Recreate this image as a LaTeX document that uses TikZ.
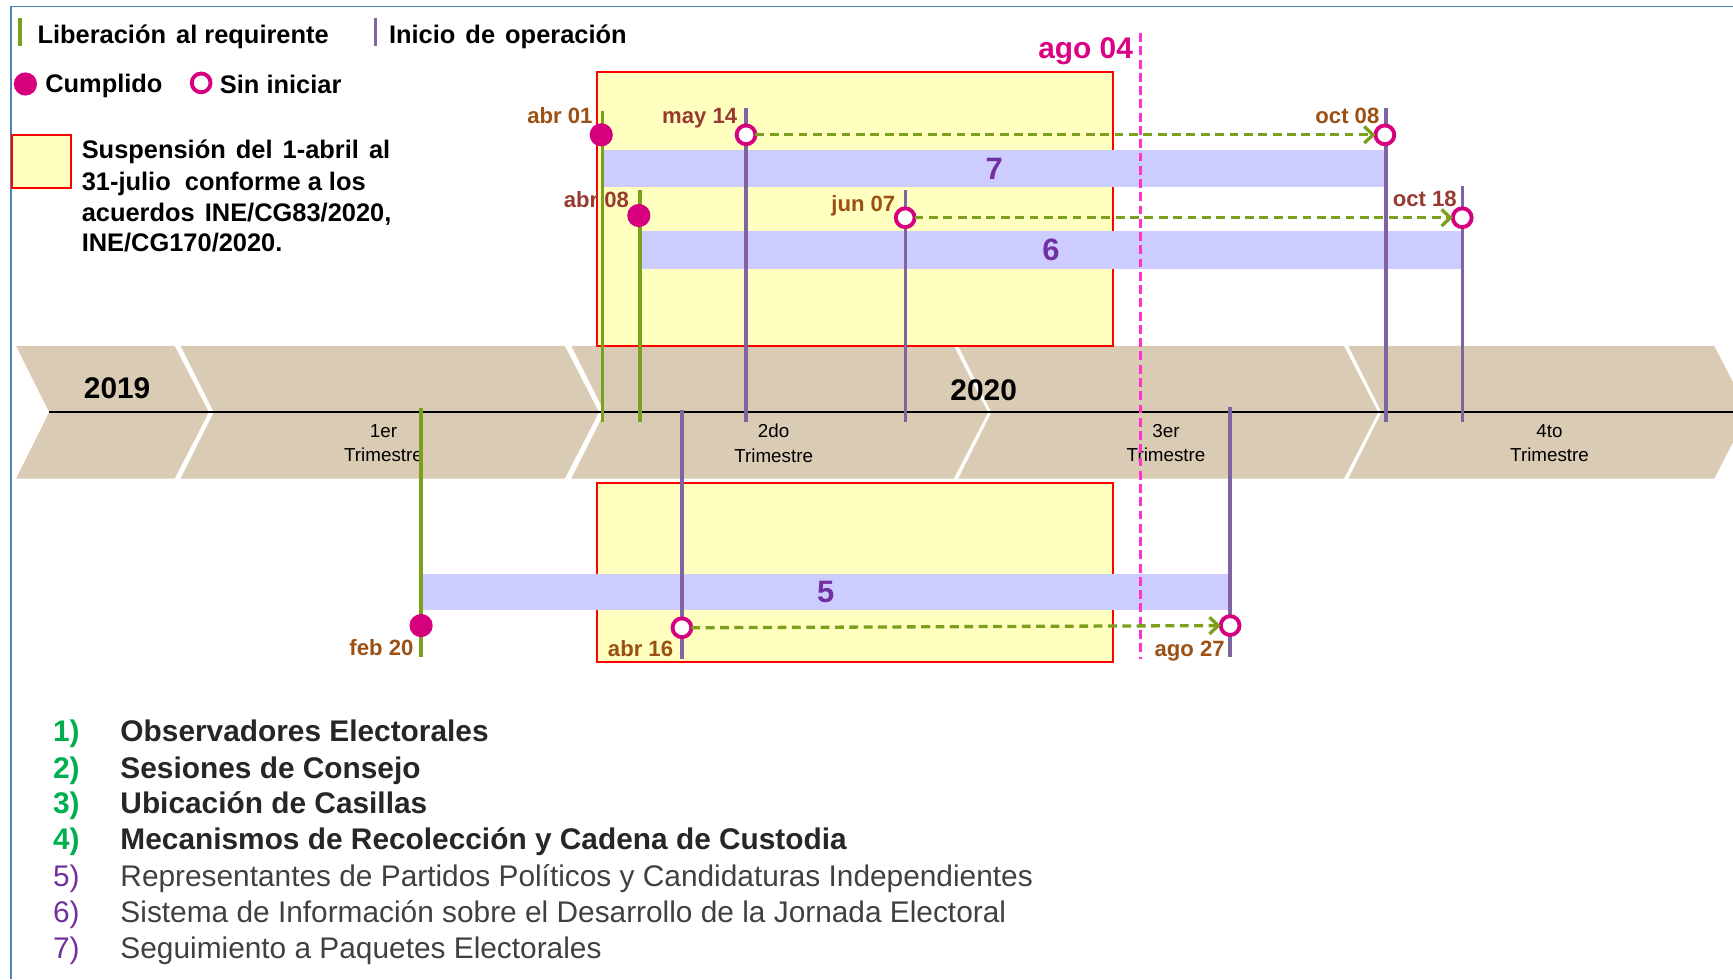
\documentclass[tikz,border=0pt]{standalone}
\usepackage{fontspec}
\setmainfont{Liberation Sans}
\usetikzlibrary{arrows.meta,shapes.geometric}
\definecolor{lgreen}{RGB}{122,160,30}
\definecolor{lpurple}{RGB}{128,100,162}
\definecolor{magdot}{RGB}{214,0,127}
\definecolor{pinkdash}{RGB}{255,51,204}
\definecolor{susp}{RGB}{255,255,192}
\definecolor{lav}{RGB}{204,204,255}
\definecolor{numpurple}{RGB}{112,48,160}
\definecolor{tanc}{RGB}{217,203,180}
\definecolor{brownA}{RGB}{155,80,20}
\definecolor{brownB}{RGB}{150,58,50}
\definecolor{listgreen}{RGB}{0,176,80}
\definecolor{framebl}{RGB}{79,129,189}
\definecolor{dtext}{RGB}{38,38,38}
\definecolor{rtext}{RGB}{64,64,64}
\definecolor{agocol}{RGB}{220,0,130}
\newcommand{\wsp}{\ \hspace{2.7pt}}
\begin{document}
\begin{tikzpicture}[x=1pt,y=-1pt,
  every node/.style={inner sep=0pt, outer sep=0pt},
  vg/.style={draw=lgreen, line width=3pt},
  vp/.style={draw=lpurple, line width=3pt},
  fdot/.style={circle, fill=magdot, minimum size=21pt},
  odot/.style={circle, draw=magdot, line width=3.5pt, fill=white, minimum size=17pt},
  darr/.style={draw=lgreen, line width=3pt, dash pattern=on 8pt off 5pt, -{Straight Barb[length=8pt,width=15pt]}},
  lblA/.style={font=\fontsize{20}{24}\selectfont\bfseries, text=brownA},
  lblB/.style={font=\fontsize{20}{24}\selectfont\bfseries, text=brownB},
  legtxt/.style={font=\fontsize{23}{27}\selectfont\bfseries, text=black},
  suspbox/.style={rectangle, fill=susp, draw=red, line width=2pt},
  barbox/.style={rectangle, fill=lav, text=numpurple, font=\fontsize{28}{30}\selectfont\bfseries},
  qlbl/.style={font=\fontsize{17}{22}\selectfont, align=center, text=black},
  yearlbl/.style={font=\fontsize{27}{30}\selectfont\bfseries, text=black},
  numg/.style={font=\fontsize{27}{30}\selectfont\bfseries, text=listgreen},
  nump/.style={font=\fontsize{27}{30}\selectfont, text=numpurple},
  itemb/.style={font=\fontsize{27}{30}\selectfont\bfseries, text=dtext},
  itemr/.style={font=\fontsize{27}{30}\selectfont, text=rtext},
]
\useasboundingbox (0,0) rectangle (1568,886);
% frame
\draw[framebl, line width=1.5pt] (10,886) -- (10,6) -- (1568,6);

% timeline band
\begin{scope}
\clip (0,0) rectangle (1568,886);
\foreach \a/\b in {14.5/158, 163.5/511, 517/863, 867/1216, 1220/1551}
  \fill[tanc] (\a,313) -- (\b,313) -- (\b+31,373) -- (\b,433) -- (\a,433) -- (\a+30,373) -- cycle;
\draw[line width=2pt, black] (44,373) -- (1568,373);
\end{scope}
\node[yearlbl, anchor=base] (y2019) at (106,361) {2019};
\node[yearlbl, anchor=base] (y2020) at (890,362) {2020};
\node[qlbl] (q1) at (347,401) {1er\\Trimestre};
\node[qlbl] (q2) at (700,401) {2do\\Trimestre};
\node[qlbl] (q3) at (1055,401) {3er\\Trimestre};
\node[qlbl] (q4) at (1402,401) {4to\\Trimestre};

% legend
\coordinate (lgt) at (18,16); \coordinate (lgb) at (18,42);
\draw[vg] (lgt) -- (lgb);
\node[legtxt, anchor=base west] (lg1) at (34,39) {Liberación\wsp al requirente};
\coordinate (lpt) at (340,16); \coordinate (lpb) at (340,42);
\draw[vp] (lpt) -- (lpb);
\node[legtxt, anchor=base west] (lg2) at (352,39) {Inicio\wsp de\wsp operación};
\node[fdot] (lgdot) at (23,76) {};
\node[legtxt, anchor=base west] (lg3) at (41,84) {Cumplido};
\node[odot] (lgodot) at (182,75) {};
\node[legtxt, anchor=base west] (lg4) at (199,85) {Sin iniciar};
\node[suspbox, minimum width=53pt, minimum height=48pt] (lgbox) at (37.5,146) {};
\node[legtxt, anchor=base west] (s1) at (74,143) {Suspensión\wsp del\wsp 1-abril\wsp al};
\node[legtxt, anchor=base west] (s2) at (74,172) {31-julio\ \ conforme a los};
\node[legtxt, anchor=base west] (s3) at (74,200) {acuerdos\wsp INE/CG83/2020,};
\node[legtxt, anchor=base west] (s4) at (74,228) {INE/CG170/2020.};

% suspension boxes
\node[suspbox, minimum width=467pt, minimum height=248pt] (box1) at (773.5,189) {};
\node[suspbox, minimum width=467pt, minimum height=162pt] (box2) at (773.5,518) {};

% bars
\node[barbox, minimum width=709pt, minimum height=33pt] (bar7) at (899.5,152.5) {7};
\node[barbox, minimum width=744pt, minimum height=34pt] (bar6) at (951,226) {6};
\node[barbox, minimum width=732pt, minimum height=33pt] (bar5) at (747,535.5) {5};

% ago 04
\node[font=\fontsize{27}{30}\selectfont\bfseries, text=agocol, anchor=base east] (ago04) at (1025,53) {ago 04};
\coordinate (agot) at (1032,30); \coordinate (agob) at (1032,596);
\draw[pinkdash, line width=2.5pt, dash pattern=on 8pt off 4pt] (agot) -- (agob);

% date labels
\node[lblA, anchor=base east] (labr01) at (536,112) {abr 01};
\node[lblB, anchor=base east] (labr08) at (569,188) {abr 08};
\node[lblB, anchor=base east] (lmay14) at (667,112) {may 14};
\node[lblA, anchor=base east] (ljun07) at (810,191) {jun 07};
\node[lblA, anchor=base east] (loct08) at (1248,112) {oct 08};
\node[lblB, anchor=base east] (loct18) at (1318,187) {oct 18};
\node[lblA, anchor=base east] (lfeb20) at (374,593) {feb 20};
\node[lblA, anchor=base east] (labr16) at (609,594) {abr 16};
\node[lblA, anchor=base east] (lago27) at (1108,594) {ago 27};

% vertical lines
\coordinate (t01) at (545,100); \coordinate (b01) at (545,382);
\coordinate (t08) at (579,172); \coordinate (b08) at (579,382);
\coordinate (t14) at (675,98);  \coordinate (b14) at (675,382);
\coordinate (tj7) at (819,172); \coordinate (bj7) at (819,382);
\coordinate (to8) at (1254,98); \coordinate (bo8) at (1254,382);
\coordinate (to18) at (1323,168); \coordinate (bo18) at (1323,382);
\coordinate (tf20) at (381,369); \coordinate (bf20) at (381,594);
\coordinate (ta16) at (617,371); \coordinate (ba16) at (617,596);
\coordinate (ta27) at (1113,368); \coordinate (ba27) at (1113,594);
\draw[vg] (t01) -- (b01);
\draw[vg] (t08) -- (b08);
\draw[vg] (tf20) -- (bf20);
\draw[vp] (t14) -- (b14);
\draw[vp] (tj7) -- (bj7);
\draw[vp] (to8) -- (bo8);
\draw[vp] (to18) -- (bo18);
\draw[vp] (ta16) -- (ba16);
\draw[vp] (ta27) -- (ba27);

% dots
\node[fdot] (d01) at (544,122) {};
\node[fdot] (d08) at (578,195) {};
\node[fdot] (df20) at (381,566) {};
\node[odot] (d14) at (675,122) {};
\node[odot] (do8) at (1253,122) {};
\node[odot] (dj7) at (819,197) {};
\node[odot] (do18) at (1323,197) {};
\node[odot] (da16) at (617,568) {};
\node[odot] (da27) at (1113,566) {};

% dashed arrows
\draw[darr] (d14.east) -- (do8.west);
\draw[darr] (dj7.east) -- (do18.west);
\draw[darr] (da16.east) -- (da27.west);

% list
\foreach \y/\n/\t in {671/1)/Observadores Electorales, 704/2)/Sesiones de Consejo, 736/3)/Ubicación de Casillas, 769/4)/Mecanismos de Recolección y Cadena de Custodia}{
  \node[numg, anchor=base west] at (48,\y) {\n};
  \node[itemb, anchor=base west] at (109,\y) {\t};
}
\foreach \y/\n/\t in {802/5)/Representantes de Partidos Políticos y Candidaturas Independientes, 835/6)/Sistema de Información sobre el Desarrollo de la Jornada Electoral, 867/7)/Seguimiento a Paquetes Electorales}{
  \node[nump, anchor=base west] at (48,\y) {\n};
  \node[itemr, anchor=base west] at (109,\y) {\t};
}
\end{tikzpicture}
\end{document}
